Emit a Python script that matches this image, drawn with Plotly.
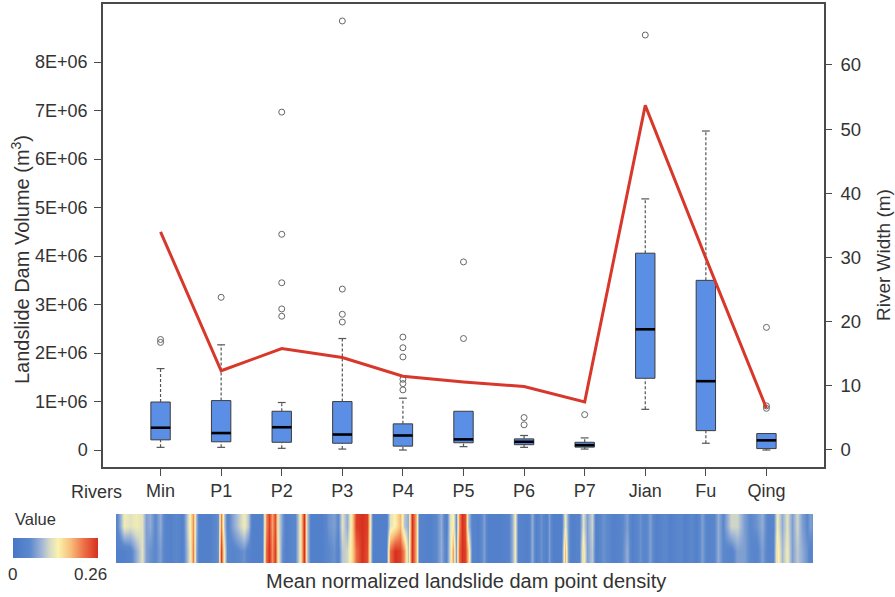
import plotly.graph_objects as go

# ---------------- data ----------------
rivers = ["Min", "P1", "P2", "P3", "P4", "P5", "P6", "P7", "Jian", "Fu", "Qing"]

# box statistics (m^3)
q1 = [0.21e6, 0.17e6, 0.16e6, 0.14e6, 0.08e6, 0.15e6, 0.11e6, 0.06e6, 1.48e6, 0.40e6, 0.03e6]
median = [0.46e6, 0.35e6, 0.47e6, 0.32e6, 0.30e6, 0.22e6, 0.17e6, 0.10e6, 2.49e6, 1.42e6, 0.20e6]
q3 = [0.99e6, 1.02e6, 0.80e6, 1.00e6, 0.54e6, 0.80e6, 0.23e6, 0.16e6, 4.06e6, 3.50e6, 0.34e6]
lower_whisker = [0.055e6, 0.055e6, 0.035e6, 0.02e6, 0.0, 0.07e6, 0.055e6, 0.02e6, 0.84e6, 0.14e6, 0.0]
upper_whisker = [1.68e6, 2.17e6, 0.98e6, 2.30e6, 1.07e6, 0.80e6, 0.30e6, 0.25e6, 5.18e6, 6.58e6, 0.34e6]

# outliers (river, value in m^3)
outlier_river = ["Min", "Min", "P1", "P2", "P2", "P2", "P2", "P2",
                 "P3", "P3", "P3", "P3", "P4", "P4", "P4", "P4", "P4", "P4",
                 "P5", "P5", "P6", "P6", "P7", "Jian", "Qing", "Qing", "Qing"]
outlier_value = [2.28e6, 2.22e6, 3.15e6, 6.97e6, 4.45e6, 3.45e6, 2.91e6, 2.76e6,
                 8.85e6, 3.32e6, 2.80e6, 2.64e6, 2.33e6, 2.11e6, 1.92e6, 1.46e6, 1.37e6, 1.24e6,
                 3.88e6, 2.30e6, 0.67e6, 0.52e6, 0.73e6, 8.56e6, 2.53e6, 0.91e6, 0.86e6]

# mean river width (m)
river_width = [34.0, 12.35, 15.8, 14.4, 11.5, 10.6, 9.9, 7.5, 53.7, 29.9, 6.5]

# left axis ticks
vol_tickvals = [0, 1e6, 2e6, 3e6, 4e6, 5e6, 6e6, 7e6, 8e6]
vol_ticktext = ["0", "1E+06", "2E+06", "3E+06", "4E+06", "5E+06", "6E+06", "7E+06", "8E+06"]
width_tickvals = [0, 10, 20, 30, 40, 50, 60]

# density strip: position along the river profile and density (top / bottom of strip)
strip_pos = [0, 4, 8, 14, 20, 26, 30, 34, 39, 44, 49, 54, 60, 66, 71, 74, 77, 80, 83, 94,
             102, 105, 108, 111, 116, 122, 128, 132, 136, 146, 150, 153, 156, 159, 162, 166, 170, 179, 184, 188,
             191, 195, 206, 212, 218, 222, 226, 231, 236, 240, 246, 251, 254, 257, 270, 274, 279, 284, 288, 292,
             296, 300, 303, 314, 320, 325, 330, 334, 337, 340, 343, 346, 349, 352, 356, 362, 368, 372, 384, 392,
             396, 399, 402, 412, 416, 420, 425, 430, 433, 437, 445, 449, 452, 455, 463, 467, 471, 476, 480, 487,
             492, 497, 504, 511, 516, 524, 529, 534, 540, 549, 554, 564, 569, 575, 580, 586, 591, 597, 602, 607,
             615, 621, 628, 634, 640, 646, 652, 657, 661, 666, 671, 676, 681, 686, 691, 694, 697]
density_top = [0.04, 0.08, 0.13, 0.12, 0.13, 0.12, 0.07, 0.08, 0.05, 0.08, 0.04, 0.03, 0.05, 0.03, 0.10, 0.14, 0.20, 0.09, 0.03, 0.03,
               0.06, 0.21, 0.10, 0.04, 0.07, 0.10, 0.13, 0.10, 0.03, 0.03, 0.20, 0.25, 0.19, 0.24, 0.12, 0.07, 0.03, 0.05, 0.13, 0.26,
               0.10, 0.03, 0.03, 0.06, 0.07, 0.05, 0.12, 0.08, 0.16, 0.25, 0.26, 0.25, 0.13, 0.03, 0.03, 0.12, 0.14, 0.18, 0.10, 0.08,
               0.26, 0.18, 0.04, 0.03, 0.05, 0.08, 0.03, 0.12, 0.14, 0.06, 0.20, 0.26, 0.24, 0.10, 0.04, 0.03, 0.07, 0.03, 0.03, 0.04,
               0.08, 0.13, 0.04, 0.03, 0.08, 0.03, 0.06, 0.03, 0.07, 0.03, 0.03, 0.13, 0.07, 0.03, 0.04, 0.12, 0.07, 0.11, 0.03, 0.06,
               0.05, 0.03, 0.04, 0.07, 0.03, 0.06, 0.04, 0.07, 0.03, 0.05, 0.03, 0.05, 0.03, 0.05, 0.03, 0.07, 0.04, 0.04, 0.08, 0.05,
               0.11, 0.11, 0.07, 0.05, 0.06, 0.08, 0.04, 0.04, 0.13, 0.08, 0.12, 0.07, 0.11, 0.07, 0.05, 0.07, 0.06]
density_bottom = [0.03, 0.03, 0.03, 0.04, 0.08, 0.12, 0.07, 0.06, 0.05, 0.07, 0.04, 0.03, 0.05, 0.03, 0.09, 0.13, 0.21, 0.08, 0.03, 0.03,
                  0.06, 0.25, 0.13, 0.05, 0.04, 0.05, 0.06, 0.04, 0.03, 0.03, 0.22, 0.26, 0.20, 0.25, 0.13, 0.06, 0.03, 0.05, 0.13, 0.26,
                  0.10, 0.03, 0.03, 0.05, 0.06, 0.04, 0.10, 0.11, 0.16, 0.22, 0.26, 0.24, 0.12, 0.03, 0.03, 0.22, 0.26, 0.25, 0.20, 0.10,
                  0.26, 0.18, 0.04, 0.03, 0.05, 0.08, 0.04, 0.12, 0.19, 0.07, 0.22, 0.26, 0.25, 0.17, 0.04, 0.03, 0.07, 0.03, 0.03, 0.04,
                  0.08, 0.13, 0.04, 0.03, 0.08, 0.03, 0.06, 0.03, 0.07, 0.03, 0.03, 0.18, 0.07, 0.03, 0.04, 0.15, 0.07, 0.10, 0.03, 0.06,
                  0.05, 0.03, 0.04, 0.08, 0.03, 0.06, 0.04, 0.07, 0.03, 0.05, 0.03, 0.05, 0.03, 0.05, 0.03, 0.07, 0.04, 0.04, 0.08, 0.05,
                  0.04, 0.07, 0.07, 0.05, 0.04, 0.07, 0.04, 0.04, 0.15, 0.09, 0.13, 0.07, 0.10, 0.08, 0.06, 0.04, 0.05]
density_max = 0.26

# ---------------- styling ----------------
FONT = "Liberation Sans, Arial, sans-serif"
TXT = "#333333"
AX = "#4a4a4a"
BOX_FILL = "#5b8fe6"
BOX_LINE = "#3c3c3c"
RED = "#d8382b"
BOX_HALF = 0.16
CAP_HALF = 0.065

xs = list(range(len(rivers)))
idx = {r: i for i, r in enumerate(rivers)}

fig = go.Figure()

# whiskers (dashed)
wx, wy = [], []
for i in xs:
    if upper_whisker[i] > q3[i]:
        wx += [i, i, None]; wy += [q3[i], upper_whisker[i], None]
    if lower_whisker[i] < q1[i]:
        wx += [i, i, None]; wy += [lower_whisker[i], q1[i], None]
fig.add_trace(go.Scatter(x=wx, y=wy, mode="lines", line=dict(color="#555555", width=1.2, dash="3px,2px"),
                         hoverinfo="skip", showlegend=False))
# caps
cx, cy = [], []
for i in xs:
    if upper_whisker[i] > q3[i]:
        cx += [i - CAP_HALF, i + CAP_HALF, None]; cy += [upper_whisker[i], upper_whisker[i], None]
    if lower_whisker[i] < q1[i]:
        cx += [i - CAP_HALF, i + CAP_HALF, None]; cy += [lower_whisker[i], lower_whisker[i], None]
fig.add_trace(go.Scatter(x=cx, y=cy, mode="lines", line=dict(color="#555555", width=1.2),
                         hoverinfo="skip", showlegend=False))
# boxes
fig.add_trace(go.Bar(x=xs, base=q1, y=[b - a for a, b in zip(q1, q3)], width=2 * BOX_HALF,
                     marker=dict(color=BOX_FILL, line=dict(color=BOX_LINE, width=1)), showlegend=False))
# medians
mx, my = [], []
for i in xs:
    mx += [i - BOX_HALF, i + BOX_HALF, None]; my += [median[i], median[i], None]
fig.add_trace(go.Scatter(x=mx, y=my, mode="lines", line=dict(color="black", width=2.6),
                         hoverinfo="skip", showlegend=False))
# outliers
fig.add_trace(go.Scatter(x=[idx[r] for r in outlier_river], y=outlier_value, mode="markers",
                         marker=dict(symbol="circle-open", size=6, color="#666666", line=dict(width=1)),
                         showlegend=False))
# river width line
fig.add_trace(go.Scatter(x=xs, y=river_width, mode="lines", line=dict(color=RED, width=3),
                         yaxis="y2", showlegend=False))

W, H = 895, 597
px = lambda v: v / W
py = lambda v: 1 - v / H

# density strip
colorscale = [[0.0, "#4776c8"], [0.2, "#5c88cc"], [0.33, "#9db3d6"], [0.44, "#d9dcc4"],
              [0.53, "#fbf3ad"], [0.68, "#f8bd7b"], [0.84, "#ec6d45"], [1.0, "#d7301f"]]
fig.add_trace(go.Heatmap(x=strip_pos, y=[0, 1], z=[density_bottom, density_top], zmin=0, zmax=density_max,
                         zsmooth="best", colorscale=colorscale, xaxis="x2", yaxis="y3",
                         colorbar=dict(orientation="h", thickness=20, thicknessmode="pixels", len=85, lenmode="pixels",
                                       x=px(55.5), xanchor="center", y=py(548), yanchor="middle",
                                       xpad=0, ypad=0, outlinewidth=0, showticklabels=False, ticks="")))

def ann(text, x, y, size=18, **kw):
    d = dict(text=text, x=px(x), y=py(y), xref="paper", yref="paper", xanchor="center", yanchor="middle",
             showarrow=False, font=dict(size=size, color=TXT, family=FONT))
    d.update(kw)
    return d

fig.update_layout(
    width=W, height=H, margin=dict(l=0, r=0, t=0, b=0),
    paper_bgcolor="white", plot_bgcolor="white", barmode="overlay",
    font=dict(family=FONT, size=18, color=TXT),
    xaxis=dict(domain=[px(103), px(824)], range=[-0.95, 10.95], tickvals=xs, ticktext=rivers,
               ticks="outside", ticklen=7, tickwidth=1.4, tickcolor=AX, showline=True, linecolor=AX, linewidth=1.5,
               mirror=True, showgrid=False, zeroline=False, anchor="y", tickfont=dict(size=18, color=TXT)),
    yaxis=dict(domain=[py(467), py(4)], range=[-0.35e6, 9.2e6], tickvals=vol_tickvals, ticktext=vol_ticktext,
               ticks="outside", ticklen=7, tickwidth=1.4, tickcolor=AX, showline=True, linecolor=AX, linewidth=1.5,
               showgrid=False, zeroline=False, anchor="x", ticklabelstandoff=3, tickfont=dict(size=18, color=TXT)),
    yaxis2=dict(overlaying="y", side="right", anchor="x", range=[-2.65, 69.5], tickvals=width_tickvals,
                ticks="outside", ticklen=6, tickwidth=1.4, tickcolor=AX, showline=True, linecolor=AX, linewidth=1.5,
                showgrid=False, zeroline=False, ticklabelstandoff=5, tickfont=dict(size=18.5, color=TXT)),
    xaxis2=dict(domain=[px(116), px(813)], range=[0, 697], visible=False, anchor="y3"),
    yaxis3=dict(domain=[py(563), py(514)], range=[-0.5, 1.5], visible=False, anchor="x2"),
    annotations=[
        ann("Landslide Dam Volume (m<sup>3</sup>)", 20, 260, size=20, textangle=-90),
        ann("River Width (m)", 884, 255, size=19, textangle=-90),
        ann("Rivers", 96, 492),
        ann("Value", 13, 519, size=16.5, xanchor="left"),
        ann("0", 12, 574, size=17),
        ann("0.26", 90, 574, size=17),
        ann("Mean normalized landslide dam point density", 466, 581, size=20),
    ],
)

fig.write_html("out.html", config={"displayModeBar": False},
               post_script="document.body.style.margin='0px';")
